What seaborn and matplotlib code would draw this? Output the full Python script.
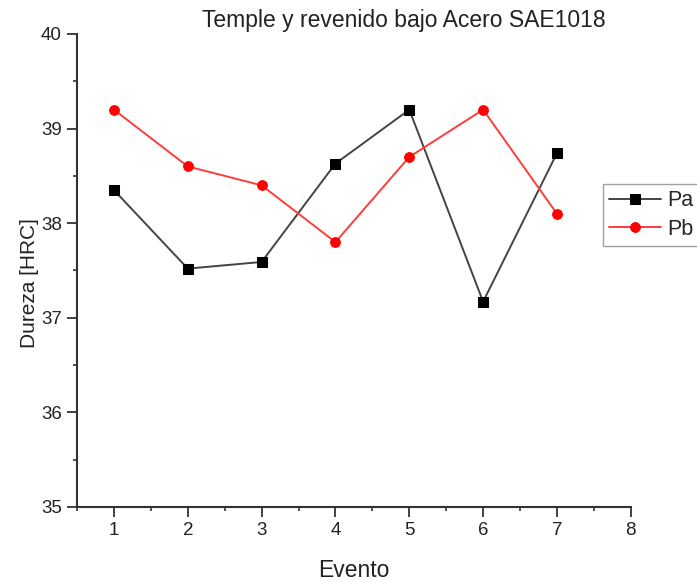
import pandas as pd
import matplotlib
matplotlib.use("Agg")
import matplotlib.pyplot as plt
from matplotlib.ticker import MultipleLocator
import seaborn as sns

# Valores
eventos = [1, 2, 3, 4, 5, 6, 7]
pa = [38.35, 37.52, 37.59, 38.63, 39.2, 37.17, 38.74]
pb = [39.2, 38.6, 38.4, 37.8, 38.7, 39.2, 38.1]
series = ["Pa", "Pb"]

df = pd.DataFrame({
    "Evento": eventos * 2,
    "Dureza": pa + pb,
    "Serie": [series[0]] * len(pa) + [series[1]] * len(pb),
})

sns.set_style("ticks")
plt.rcParams["font.family"] = ["Liberation Sans", "DejaVu Sans"]

fig = plt.figure(figsize=(6.97, 5.82), dpi=100)
ax = fig.add_axes([0.1105, 0.1289, 0.7945, 0.8127])

# Pa: linea gris oscura, marcadores negros cuadrados
sns.lineplot(data=df[df["Serie"] == "Pa"], x="Evento", y="Dureza", ax=ax,
             color="#444444", linewidth=1.4, marker="s", markersize=6.5,
             markerfacecolor="black", markeredgecolor="black", label="Pa")
# Pb: linea roja, circulos rojos
sns.lineplot(data=df[df["Serie"] == "Pb"], x="Evento", y="Dureza", ax=ax,
             color="#ff3b3b", linewidth=1.4, marker="o", markersize=7,
             markerfacecolor="red", markeredgecolor="red", label="Pb")

ax.set_xlim(0.5, 8)
ax.set_ylim(35, 40)
ax.xaxis.set_major_locator(MultipleLocator(1))
ax.xaxis.set_minor_locator(MultipleLocator(0.5))
ax.yaxis.set_major_locator(MultipleLocator(1))
ax.yaxis.set_minor_locator(MultipleLocator(0.5))
ax.set_xticks([1, 2, 3, 4, 5, 6, 7, 8])

sns.despine(ax=ax)
for s in ["left", "bottom"]:
    ax.spines[s].set_color("#333333")
    ax.spines[s].set_linewidth(1.5)
ax.tick_params(which="major", direction="out", length=7, width=1.3, pad=4,
               color="#333333", labelsize=13.5, labelcolor="#222222")
ax.tick_params(which="minor", direction="out", length=3, width=1.2,
               color="#333333")

ax.set_xlabel("Evento", fontsize=16.5, color="#222222", labelpad=14)
ax.set_ylabel("Dureza [HRC]", fontsize=15, color="#222222")
ax.yaxis.set_label_coords(-0.068, 0.474)

fig.text(0.58, 0.964, "Temple y revenido bajo Acero SAE1018",
         ha="center", va="center", fontsize=16.5, color="#222222")

leg = ax.legend(loc="upper left", bbox_to_anchor=(603 / 697, 1 - 184 / 582),
                bbox_transform=fig.transFigure, fontsize=15.5, frameon=True,
                fancybox=False, edgecolor="#888888", handlelength=2.4,
                handletextpad=0.3, borderpad=0.3, labelspacing=0.35,
                borderaxespad=0)
leg.get_frame().set_linewidth(1.0)

fig.savefig("out.png", dpi=100)
